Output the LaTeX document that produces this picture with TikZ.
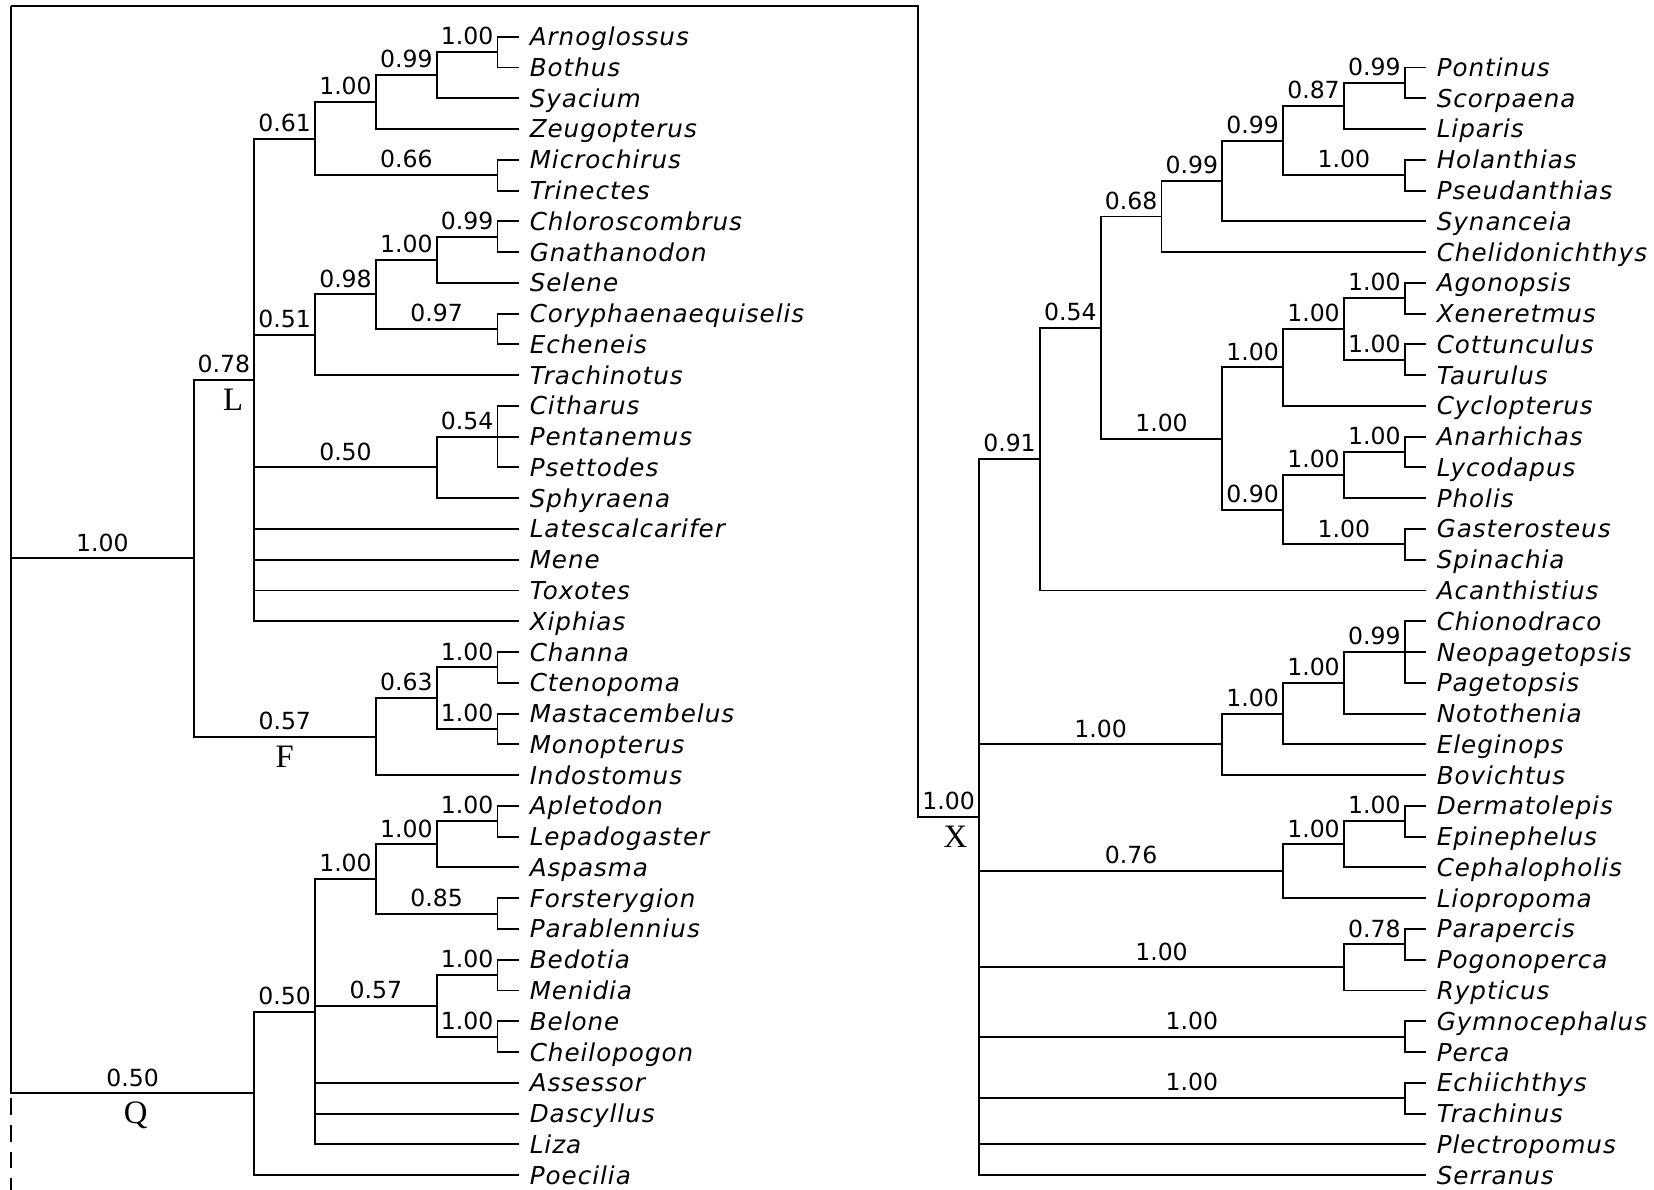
\documentclass[tikz,border=0pt]{standalone}
\usepackage{fontspec}
\newfontfamily\taxonfont[LetterSpace=4]{DejaVu Sans}
\newfontfamily\probfont{DejaVu Sans}
\newfontfamily\cladefont{Liberation Serif}

\begin{document}
\begin{tikzpicture}[
        x=0.01cm, y=-0.3075cm,
        br/.style={line width=0.55pt},
        leaf/.style={anchor=west, inner xsep=3pt, inner ysep=0pt, text height=6.6pt, text depth=1.5pt, font=\taxonfont\itshape\fontsize{7}{8}\selectfont},
        prob/.style={pos=0.75, anchor=south, inner xsep=0pt, inner ysep=1.8pt, text depth=0pt, font=\probfont\fontsize{6.7}{7}\selectfont},
        clade/.style={anchor=base, yshift=-8.7pt, inner sep=0pt, font=\cladefont\fontsize{9.3}{10}\selectfont},
    ]
    \useasboundingbox (0,-1.1935) rectangle (1654,37.4732);

    % Left tree x-levels
    \def\lA{11.1}   % root
    \def\lD{193.6}
    \def\lE{254.3}
    \def\lF{315.1}
    \def\lG{375.9}
    \def\lH{436.7}
    \def\lI{497.5}  % cherries
    \def\lJ{518.5}  % tips
    % Right tree x-levels
    \def\rA{918.3}
    \def\rB{979.1}  % X
    \def\rC{1039.9}
    \def\rD{1100.7}
    \def\rE{1161.5}
    \def\rF{1222.3}
    \def\rG{1283.1}
    \def\rH{1343.9}
    \def\rI{1404.7} % cherries
    \def\rJ{1425.5} % tips

    % ===== Left tips (one row each) =====
    \node[leaf] (Arnoglossus) at (\lJ,0) {Arnoglossus}; \node[leaf] (Bothus) at (\lJ,1) {Bothus};
    \node[leaf] (Syacium) at (\lJ,2) {Syacium}; \node[leaf] (Zeugopterus) at (\lJ,3) {Zeugopterus};
    \node[leaf] (Microchirus) at (\lJ,4) {Microchirus}; \node[leaf] (Trinectes) at (\lJ,5) {Trinectes};
    \node[leaf] (Chloroscombrus) at (\lJ,6) {Chloroscombrus}; \node[leaf] (Gnathanodon) at (\lJ,7) {Gnathanodon};
    \node[leaf] (Selene) at (\lJ,8) {Selene}; \node[leaf] (Coryphaenaequiselis) at (\lJ,9) {Coryphaenaequiselis};
    \node[leaf] (Echeneis) at (\lJ,10) {Echeneis}; \node[leaf] (Trachinotus) at (\lJ,11) {Trachinotus};
    \node[leaf] (Citharus) at (\lJ,12) {Citharus}; \node[leaf] (Pentanemus) at (\lJ,13) {Pentanemus};
    \node[leaf] (Psettodes) at (\lJ,14) {Psettodes}; \node[leaf] (Sphyraena) at (\lJ,15) {Sphyraena};
    \node[leaf] (Latescalcarifer) at (\lJ,16) {Latescalcarifer}; \node[leaf] (Mene) at (\lJ,17) {Mene};
    \node[leaf] (Toxotes) at (\lJ,18) {Toxotes}; \node[leaf] (Xiphias) at (\lJ,19) {Xiphias};
    \node[leaf] (Channa) at (\lJ,20) {Channa}; \node[leaf] (Ctenopoma) at (\lJ,21) {Ctenopoma};
    \node[leaf] (Mastacembelus) at (\lJ,22) {Mastacembelus}; \node[leaf] (Monopterus) at (\lJ,23) {Monopterus};
    \node[leaf] (Indostomus) at (\lJ,24) {Indostomus}; \node[leaf] (Apletodon) at (\lJ,25) {Apletodon};
    \node[leaf] (Lepadogaster) at (\lJ,26) {Lepadogaster}; \node[leaf] (Aspasma) at (\lJ,27) {Aspasma};
    \node[leaf] (Forsterygion) at (\lJ,28) {Forsterygion}; \node[leaf] (Parablennius) at (\lJ,29) {Parablennius};
    \node[leaf] (Bedotia) at (\lJ,30) {Bedotia}; \node[leaf] (Menidia) at (\lJ,31) {Menidia};
    \node[leaf] (Belone) at (\lJ,32) {Belone}; \node[leaf] (Cheilopogon) at (\lJ,33) {Cheilopogon};
    \node[leaf] (Assessor) at (\lJ,34) {Assessor}; \node[leaf] (Dascyllus) at (\lJ,35) {Dascyllus};
    \node[leaf] (Liza) at (\lJ,36) {Liza}; \node[leaf] (Poecilia) at (\lJ,37) {Poecilia};

    % ===== Right tips =====
    \node[leaf] (Pontinus) at (\rJ,1) {Pontinus}; \node[leaf] (Scorpaena) at (\rJ,2) {Scorpaena};
    \node[leaf] (Liparis) at (\rJ,3) {Liparis}; \node[leaf] (Holanthias) at (\rJ,4) {Holanthias};
    \node[leaf] (Pseudanthias) at (\rJ,5) {Pseudanthias}; \node[leaf] (Synanceia) at (\rJ,6) {Synanceia};
    \node[leaf] (Chelidonichthys) at (\rJ,7) {Chelidonichthys}; \node[leaf] (Agonopsis) at (\rJ,8) {Agonopsis};
    \node[leaf] (Xeneretmus) at (\rJ,9) {Xeneretmus}; \node[leaf] (Cottunculus) at (\rJ,10) {Cottunculus};
    \node[leaf] (Taurulus) at (\rJ,11) {Taurulus}; \node[leaf] (Cyclopterus) at (\rJ,12) {Cyclopterus};
    \node[leaf] (Anarhichas) at (\rJ,13) {Anarhichas}; \node[leaf] (Lycodapus) at (\rJ,14) {Lycodapus};
    \node[leaf] (Pholis) at (\rJ,15) {Pholis}; \node[leaf] (Gasterosteus) at (\rJ,16) {Gasterosteus};
    \node[leaf] (Spinachia) at (\rJ,17) {Spinachia}; \node[leaf] (Acanthistius) at (\rJ,18) {Acanthistius};
    \node[leaf] (Chionodraco) at (\rJ,19) {Chionodraco}; \node[leaf] (Neopagetopsis) at (\rJ,20) {Neopagetopsis};
    \node[leaf] (Pagetopsis) at (\rJ,21) {Pagetopsis}; \node[leaf] (Notothenia) at (\rJ,22) {Notothenia};
    \node[leaf] (Eleginops) at (\rJ,23) {Eleginops}; \node[leaf] (Bovichtus) at (\rJ,24) {Bovichtus};
    \node[leaf] (Dermatolepis) at (\rJ,25) {Dermatolepis}; \node[leaf] (Epinephelus) at (\rJ,26) {Epinephelus};
    \node[leaf] (Cephalopholis) at (\rJ,27) {Cephalopholis}; \node[leaf] (Liopropoma) at (\rJ,28) {Liopropoma};
    \node[leaf] (Parapercis) at (\rJ,29) {Parapercis}; \node[leaf] (Pogonoperca) at (\rJ,30) {Pogonoperca};
    \node[leaf] (Rypticus) at (\rJ,31) {Rypticus}; \node[leaf] (Gymnocephalus) at (\rJ,32) {Gymnocephalus};
    \node[leaf] (Perca) at (\rJ,33) {Perca}; \node[leaf] (Echiichthys) at (\rJ,34) {Echiichthys};
    \node[leaf] (Trachinus) at (\rJ,35) {Trachinus}; \node[leaf] (Plectropomus) at (\rJ,36) {Plectropomus};
    \node[leaf] (Serranus) at (\rJ,37) {Serranus};

    % ===== Left internal nodes (y = middle of first and last child) =====
    \coordinate (ltop) at (\lA,-1);  \coordinate (lbot) at (\lA,37.5);
    \coordinate (core) at (\lD,16.953125);
    \coordinate (cladeL) at (\lE,11.15625);
    \coordinate (c061) at (\lF,3.3125);   \coordinate (c100a) at (\lG,2.125);
    \coordinate (c099a) at (\lH,1.25);    \coordinate (arnbot) at (\lI,0.5);
    \coordinate (mictri) at (\lI,4.5);
    \coordinate (c051) at (\lF,9.6875);   \coordinate (c098) at (\lG,8.375);
    \coordinate (c100b) at (\lH,7.25);    \coordinate (chlgna) at (\lI,6.5);
    \coordinate (coryech) at (\lI,9.5);
    \coordinate (c050a) at (\lH,14);      \coordinate (citpen) at (\lI,13);
    \coordinate (cladeF) at (\lG,22.75);  \coordinate (c063) at (\lH,21.5);
    \coordinate (chacte) at (\lI,20.5);   \coordinate (masmon) at (\lI,22.5);
    \coordinate (cladeQ) at (\lE,34.34375);
    \coordinate (c050b) at (\lF,31.6875); \coordinate (c100c) at (\lG,27.375);
    \coordinate (c100d) at (\lH,26.25);   \coordinate (aplep) at (\lI,25.5);
    \coordinate (forpar) at (\lI,28.5);
    \coordinate (c057) at (\lH,31.5);     \coordinate (bedmen) at (\lI,30.5);
    \coordinate (belche) at (\lI,32.5);

    % ===== Right internal nodes =====
    \coordinate (rtop) at (\rA,-1);
    \coordinate (cladeX) at (\rB,25.36328125);
    \coordinate (c091) at (\rC,13.7265625); \coordinate (c054) at (\rD,9.453125);
    \coordinate (c068) at (\rE,5.84375);    \coordinate (c099b) at (\rF,4.6875);
    \coordinate (c099c) at (\rG,3.375);     \coordinate (c087) at (\rH,2.25);
    \coordinate (ponsco) at (\rI,1.5);      \coordinate (holpse) at (\rI,4.5);
    \coordinate (c100e) at (\rF,13.0625);   \coordinate (c100f) at (\rG,10.75);
    \coordinate (c100g) at (\rH,9.5);       \coordinate (agoxen) at (\rI,8.5);
    \coordinate (cottau) at (\rI,10.5);
    \coordinate (c090) at (\rG,15.375);     \coordinate (c100h) at (\rH,14.25);
    \coordinate (analyc) at (\rI,13.5);     \coordinate (gasspi) at (\rI,16.5);
    \coordinate (c100i) at (\rF,23);        \coordinate (c100j) at (\rG,22);
    \coordinate (c100k) at (\rH,21);        \coordinate (chineo) at (\rI,20);
    \coordinate (c076) at (\rG,27.125);     \coordinate (c100l) at (\rH,26.25);
    \coordinate (derepi) at (\rI,25.5);
    \coordinate (c100m) at (\rH,30.25);     \coordinate (parpog) at (\rI,29.5);
    \coordinate (gymper) at (\rI,32.5);     \coordinate (echtra) at (\rI,34.5);

    % ===== Left branches =====
    \draw[br] (ltop) |- node[prob]{1.00} (core);
    \draw[br] (ltop) |- node[prob]{0.50} node[clade,pos=0.756]{Q} (cladeQ);
    \draw[br, dash pattern=on 4.7pt off 2.9pt, dash phase=6.2pt] (ltop |- cladeQ) -- (lbot);
    \draw[br] (core) |- node[prob]{0.78} node[clade,pos=0.826]{L} (cladeL);
    \draw[br] (core) |- node[prob]{0.57} node[clade,pos=0.75]{F} (cladeF);
    % L
    \draw[br] (cladeL) |- node[prob]{0.61} (c061);
    \draw[br] (cladeL) |- node[prob]{0.51} (c051);
    \draw[br] (cladeL) |- node[prob]{0.50} (c050a);
    \draw[br] (cladeL) |- (Latescalcarifer) (cladeL) |- (Mene) (cladeL) |- (Toxotes) (cladeL) |- (Xiphias);
    \draw[br] (c061) |- node[prob]{1.00} (c100a);
    \draw[br] (c061) |- node[prob]{0.66} (mictri);
    \draw[br] (c100a) |- node[prob]{0.99} (c099a);
    \draw[br] (c100a) |- (Zeugopterus);
    \draw[br] (c099a) |- node[prob]{1.00} (arnbot);
    \draw[br] (c099a) |- (Syacium);
    \draw[br] (arnbot) |- (Arnoglossus) (arnbot) |- (Bothus);
    \draw[br] (mictri) |- (Microchirus) (mictri) |- (Trinectes);
    \draw[br] (c051) |- node[prob]{0.98} (c098);
    \draw[br] (c051) |- (Trachinotus);
    \draw[br] (c098) |- node[prob]{1.00} (c100b);
    \draw[br] (c098) |- node[prob]{0.97} (coryech);
    \draw[br] (c100b) |- node[prob]{0.99} (chlgna);
    \draw[br] (c100b) |- (Selene);
    \draw[br] (chlgna) |- (Chloroscombrus) (chlgna) |- (Gnathanodon);
    \draw[br] (coryech) |- (Coryphaenaequiselis) (coryech) |- (Echeneis);
    \draw[br] (c050a) |- node[prob]{0.54} (citpen);
    \draw[br] (c050a) |- (Sphyraena);
    \draw[br] (citpen) |- (Citharus) (citpen) |- (Pentanemus) (citpen) |- (Psettodes);
    % F
    \draw[br] (cladeF) |- node[prob]{0.63} (c063);
    \draw[br] (cladeF) |- (Indostomus);
    \draw[br] (c063) |- node[prob]{1.00} (chacte);
    \draw[br] (c063) |- node[prob]{1.00} (masmon);
    \draw[br] (chacte) |- (Channa) (chacte) |- (Ctenopoma);
    \draw[br] (masmon) |- (Mastacembelus) (masmon) |- (Monopterus);
    % Q
    \draw[br] (cladeQ) |- node[prob]{0.50} (c050b);
    \draw[br] (cladeQ) |- (Poecilia);
    \draw[br] (c050b) |- node[prob]{1.00} (c100c);
    \draw[br] (c050b) |- node[prob]{0.57} (c057);
    \draw[br] (c050b) |- (Assessor) (c050b) |- (Dascyllus) (c050b) |- (Liza);
    \draw[br] (c100c) |- node[prob]{1.00} (c100d);
    \draw[br] (c100c) |- node[prob]{0.85} (forpar);
    \draw[br] (c100d) |- node[prob]{1.00} (aplep);
    \draw[br] (c100d) |- (Aspasma);
    \draw[br] (aplep) |- (Apletodon) (aplep) |- (Lepadogaster);
    \draw[br] (forpar) |- (Forsterygion) (forpar) |- (Parablennius);
    \draw[br] (c057) |- node[prob]{1.00} (bedmen);
    \draw[br] (c057) |- node[prob]{1.00} (belche);
    \draw[br] (bedmen) |- (Bedotia) (bedmen) |- (Menidia);
    \draw[br] (belche) |- (Belone) (belche) |- (Cheilopogon);

    % ===== Right branches =====
    \draw[br] (ltop) -- (rtop) |- node[prob]{1.00} node[clade,pos=0.806]{X} (cladeX);
    \draw[br] (cladeX) |- node[prob]{0.91} (c091);
    \draw[br] (cladeX) |- node[prob]{1.00} (c100i);
    \draw[br] (cladeX) |- node[prob]{0.76} (c076);
    \draw[br] (cladeX) |- node[prob]{1.00} (c100m);
    \draw[br] (cladeX) |- node[prob]{1.00} (gymper);
    \draw[br] (cladeX) |- node[prob]{1.00} (echtra);
    \draw[br] (cladeX) |- (Plectropomus) (cladeX) |- (Serranus);
    \draw[br] (c091) |- node[prob]{0.54} (c054);
    \draw[br] (c091) |- (Acanthistius);
    \draw[br] (c054) |- node[prob]{0.68} (c068);
    \draw[br] (c054) |- node[prob]{1.00} (c100e);
    \draw[br] (c068) |- node[prob]{0.99} (c099b);
    \draw[br] (c068) |- (Chelidonichthys);
    \draw[br] (c099b) |- node[prob]{0.99} (c099c);
    \draw[br] (c099b) |- (Synanceia);
    \draw[br] (c099c) |- node[prob]{0.87} (c087);
    \draw[br] (c099c) |- node[prob]{1.00} (holpse);
    \draw[br] (c087) |- node[prob]{0.99} (ponsco);
    \draw[br] (c087) |- (Liparis);
    \draw[br] (ponsco) |- (Pontinus) (ponsco) |- (Scorpaena);
    \draw[br] (holpse) |- (Holanthias) (holpse) |- (Pseudanthias);
    \draw[br] (c100e) |- node[prob]{1.00} (c100f);
    \draw[br] (c100e) |- node[prob]{0.90} (c090);
    \draw[br] (c100f) |- node[prob]{1.00} (c100g);
    \draw[br] (c100f) |- (Cyclopterus);
    \draw[br] (c100g) |- node[prob]{1.00} (agoxen);
    \draw[br] (c100g) |- node[prob]{1.00} (cottau);
    \draw[br] (agoxen) |- (Agonopsis) (agoxen) |- (Xeneretmus);
    \draw[br] (cottau) |- (Cottunculus) (cottau) |- (Taurulus);
    \draw[br] (c090) |- node[prob]{1.00} (c100h);
    \draw[br] (c090) |- node[prob]{1.00} (gasspi);
    \draw[br] (c100h) |- node[prob]{1.00} (analyc);
    \draw[br] (c100h) |- (Pholis);
    \draw[br] (analyc) |- (Anarhichas) (analyc) |- (Lycodapus);
    \draw[br] (gasspi) |- (Gasterosteus) (gasspi) |- (Spinachia);
    \draw[br] (c100i) |- node[prob]{1.00} (c100j);
    \draw[br] (c100i) |- (Bovichtus);
    \draw[br] (c100j) |- node[prob]{1.00} (c100k);
    \draw[br] (c100j) |- (Eleginops);
    \draw[br] (c100k) |- node[prob]{0.99} (chineo);
    \draw[br] (c100k) |- (Notothenia);
    \draw[br] (chineo) |- (Chionodraco) (chineo) |- (Neopagetopsis) (chineo) |- (Pagetopsis);
    \draw[br] (c076) |- node[prob]{1.00} (c100l);
    \draw[br] (c076) |- (Liopropoma);
    \draw[br] (c100l) |- node[prob]{1.00} (derepi);
    \draw[br] (c100l) |- (Cephalopholis);
    \draw[br] (derepi) |- (Dermatolepis) (derepi) |- (Epinephelus);
    \draw[br] (c100m) |- node[prob]{0.78} (parpog);
    \draw[br] (c100m) |- (Rypticus);
    \draw[br] (parpog) |- (Parapercis) (parpog) |- (Pogonoperca);
    \draw[br] (gymper) |- (Gymnocephalus) (gymper) |- (Perca);
    \draw[br] (echtra) |- (Echiichthys) (echtra) |- (Trachinus);

\end{tikzpicture}
\end{document}
